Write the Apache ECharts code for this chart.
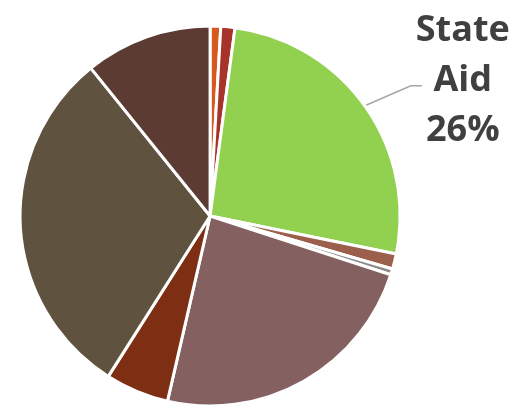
<!DOCTYPE html>
<html>
<head>
<meta charset="utf-8">
<script src="https://cdn.jsdelivr.net/npm/echarts@6/dist/echarts.min.js"></script>
<style>
  html, body { margin: 0; padding: 0; background: #fff; }
  #chart { width: 520px; height: 406px; }
</style>
</head>
<body>
<div id="chart"></div>
<script>
// Revenue sources, share of total (%), clockwise from 12 o'clock
const categories = ['Other A', 'Other B', 'State Aid', 'Other C', 'Other D', 'Local Levy', 'Other E', 'Property Tax', 'Federal'];
const shares = [0.9, 1.2, 26.1, 1.3, 0.5, 23.6, 5.4, 30.2, 10.8];
const sliceColors = ['#D65A1E', '#A7332A', '#92D050', '#9B5F4C', '#8E8A8C', '#856060', '#7E2E12', '#5F523E', '#5B3B32'];
const labelled = ['State Aid'];

const chart = echarts.init(document.getElementById('chart'), null, { renderer: 'canvas' });

const data = categories.map((name, i) => {
  const item = { name: name, value: shares[i], itemStyle: { color: sliceColors[i] } };
  if (labelled.indexOf(name) >= 0) {
    item.label = { show: true };
    item.labelLine = { show: true };
  }
  return item;
});

chart.setOption({
  animation: false,
  backgroundColor: '#ffffff',
  series: [{
    type: 'pie',
    center: ['40.4%', '53.2%'],
    radius: [0, 190],
    startAngle: 90,
    clockwise: true,
    avoidLabelOverlap: false,
    itemStyle: { borderColor: '#ffffff', borderWidth: 3 },
    label: {
      show: false,
      position: 'outside',
      formatter: p => '{t|' + p.name.replace(' ', '}\n{t|') + '}\n{t|' + Math.round(p.value) + '%}',
      rich: {
        t: {
          fontFamily: 'Open Sans',
          fontWeight: 'bold',
          fontSize: 36,
          lineHeight: 50,
          color: '#404040',
          align: 'center'
        }
      }
    },
    labelLine: {
      show: false,
      length: 40,
      length2: 10,
      lineStyle: { color: '#A6A6A6', width: 1.5 }
    },
    // leader runs up and out from the slice edge, then a short flat run toward the text
    labelLayout: function (params) {
      const pts = params.labelLinePoints;
      if (!pts) return {};
      const s = pts[0];
      return {
        x: s[0] + 98,
        y: s[1] - 25,
        align: 'center',
        verticalAlign: 'middle',
        labelLinePoints: [s, [s[0] + 46, s[1] - 20], [s[0] + 57, s[1] - 20]]
      };
    },
    emphasis: { disabled: true },
    data: data
  }]
});
</script>
</body>
</html>
